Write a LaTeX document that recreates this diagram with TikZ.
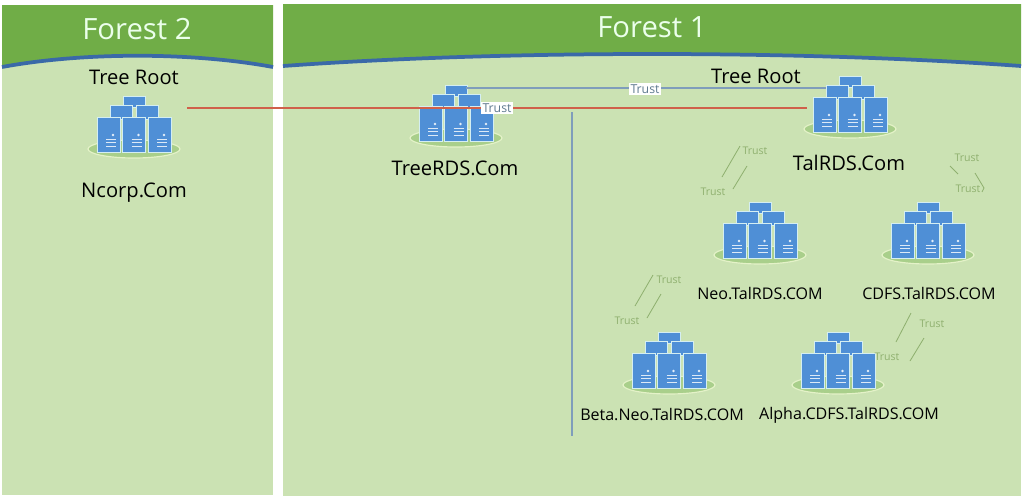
\documentclass[tikz,border=0pt]{standalone}
\usepackage{fontspec}
\setmainfont{Open Sans}
\definecolor{headgreen}{HTML}{70AD47}
\definecolor{bodygreen}{HTML}{CBE2B3}
\definecolor{wavecol}{HTML}{3A69A8}
\definecolor{boxcol}{HTML}{4F8FD6}
\definecolor{boxline}{HTML}{D4EEF2}
\definecolor{padcol}{HTML}{A9CF8B}
\definecolor{padline}{HTML}{E4F2C8}
\definecolor{trustred}{HTML}{D0604A}
\definecolor{trustblue}{HTML}{7F9DBB}
\definecolor{trustgreen}{HTML}{8FB06F}
\definecolor{trustgray}{HTML}{5F7A90}
\tikzset{
  title/.style={text=white!92!green,font=\fontsize{25}{25}\selectfont},
  domainlabel/.style={text=black,font=\fontsize{17.2}{18}\selectfont},
  childlabel/.style={text=black,font=\fontsize{13.7}{14}\selectfont},
  trustlabel/.style={fill=white,text=trustgray,inner sep=1.5pt,font=\fontsize{10.5}{10.5}\selectfont},
  trustnote/.style={text=trustgreen,inner sep=0pt,font=\fontsize{9}{9}\selectfont},
  trustline/.style={trustgreen,line width=0.7pt},
  box/.style={fill=boxcol,draw=boxline,line width=0.8pt},
  servers/.pic={
    \fill[padcol,draw=padline,line width=1pt] (0,24) ellipse [x radius=46,y radius=9];
    \draw[box] (-11,-29) rectangle (11,-18);
    \foreach \x in {-24,2} \draw[box] (\x,-20) rectangle (\x+22,-6);
    % Three machines in front, each with a dot and three vents.
    \foreach \x in {-37,-11.5,14} {
      \draw[box] (\x,-8) rectangle (\x+23,27);
      \fill[white!85!boxcol] (\x+16,10) circle (1.3);
      \foreach \y in {14,17.5,21} \draw[white!80!boxcol,line width=0.8pt] (\x+9,\y) -- (\x+19,\y);
    }
  }
}
\begin{document}
\begin{tikzpicture}[x=0.03cm,y=-0.03cm]
  \useasboundingbox (0,0) rectangle (1024,499);
  \fill[white] (0,0) rectangle (1024,499);
  % Each panel: left, right, top, bottom, and the height of the wave at the edges and in the middle.
  \foreach \l/\r/\t/\b/\e/\m in {2/273/5/495/67/56,283/1021/4/496/66/54} {
    \fill[bodygreen] (\l,\t) rectangle (\r,\b);
    \fill[headgreen] (\l,\t) -- (\r,\t) -- (\r,\e)
      .. controls ({\l+0.7*(\r-\l)},{\m-4}) and ({\l+0.3*(\r-\l)},{\m-4}) .. (\l,\e) -- cycle;
    \draw[wavecol,line width=3.2pt] (\r,\e)
      .. controls ({\l+0.7*(\r-\l)},{\m-4}) and ({\l+0.3*(\r-\l)},{\m-4}) .. (\l,\e);
  }
  \node[title] (forest2) at (137,29) {Forest 2};
  \node[title] (forest1) at (652,27) {Forest 1};
  \node[domainlabel] (root2) at (134,77) {Tree Root};
  \node[domainlabel] (root1) at (756,76) {Tree Root};

  \pic at (134,125) {servers};
  \pic at (456,114) {servers};
  \pic at (850,105) {servers};
  \pic at (760,231) {servers};
  \pic at (928,231) {servers};
  \pic at (669,361) {servers};
  \pic at (838,361) {servers};

  \node[domainlabel] (ncorp) at (134,193) {Ncorp.Com};
  \node[domainlabel] (tree) at (455,168) {TreeRDS.Com};
  \node[domainlabel] (tal) at (849,163) {TalRDS.Com};
  \node[childlabel] (neo) at (760,294) {Neo.TalRDS.COM};
  \node[childlabel] (cdfs) at (929,294) {CDFS.TalRDS.COM};
  \node[childlabel] (beta) at (662,415) {Beta.Neo.TalRDS.COM};
  \node[childlabel] (alpha) at (849,415) {Alpha.CDFS.TalRDS.COM};

  \coordinate (ncorpred) at (187,108);
  \coordinate (talred) at (807,108);
  \coordinate (treeblue) at (466,88);
  \coordinate (talblue) at (826,88);
  \coordinate (rulehi) at (572,112);
  \coordinate (rulelo) at (572,436);
  \draw[trustblue,line width=0.9pt] (treeblue) -- (talblue);
  \draw[trustred,line width=0.9pt] (ncorpred) -- (talred);
  \draw[trustblue,line width=1.1pt] (rulehi) -- (rulelo);
  \node[trustlabel] (redtrust) at (497,108) {Trust};
  \node[trustlabel] (bluetrust) at (645,89) {Trust};

  % Loose pairs of lines between parent and child, with their labels.
  \foreach \name/\ax/\ay/\bx/\by in {n1/740/146/722/177,n2/747/166/733/189,c1/950/166/958/174,
      c2/975/173/984/188,c3/984/188/982/192,b1/653/275/635/306,b2/661/294/647/318,
      a1/911/313/896/342,a2/924/338/910/361} {
    \coordinate (\name a) at (\ax,\ay);
    \coordinate (\name b) at (\bx,\by);
    \draw[trustline] (\name a) -- (\name b);
  }
  \foreach \name/\x/\y in {tn1/755/151,tn2/713/192,tc1/967/158,tc2/968/189,
      tb1/669/280,tb2/627/321,ta1/932/324,ta2/887/357}
    \node[trustnote] (\name) at (\x,\y) {Trust};
\end{tikzpicture}
\end{document}
